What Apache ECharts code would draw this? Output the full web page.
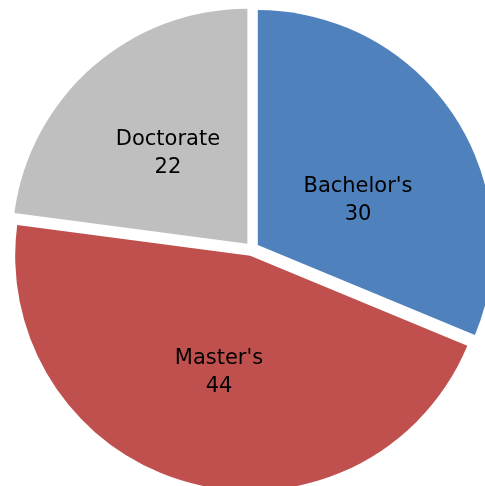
<!DOCTYPE html>
<html>
<head>
<meta charset="utf-8">
<script src="https://cdn.jsdelivr.net/npm/echarts@6/dist/echarts.min.js"></script>
<style>
  html, body { margin: 0; padding: 0; background: #fff; }
  #chart { width: 485px; height: 486px; }
</style>
</head>
<body>
<div id="chart"></div>
<script>
var categories = ["Bachelor's", "Master's", "Doctorate"];
var values = [30, 44, 22];
var colors = ["#4F81BD", "#C0504D", "#BFBFBF"];

var data = [];
categories.forEach(function (name, i) {
  data.push({
    name: name,
    value: values[i],
    selected: true,
    itemStyle: { color: colors[i] }
  });
});

var myChart = echarts.init(document.getElementById("chart"));
var option = {
  animation: false,
  series: [
    {
      type: "pie",
      center: [252, 249],
      radius: 235,
      startAngle: 90,
      clockwise: true,
      selectedMode: "multiple",
      selectedOffset: 7,
      emphasis: { disabled: true },
      data: data,
      label: {
        show: true,
        position: "inner",
        formatter: function (p) {
          var txt = p.name + "\n" + p.value;
          // Bachelor's label sits lower in the original
          if (p.dataIndex == 0) {
            txt = "{gap|}\n" + txt;
          }
          return txt;
        },
        rich: {
          gap: { height: 44, lineHeight: 44, fontSize: 1 }
        },
        fontFamily: "DejaVu Sans",
        fontSize: 21,
        lineHeight: 28,
        color: "#000"
      },
      labelLine: { show: false }
    }
  ]
};
myChart.setOption(option);
</script>
</body>
</html>
